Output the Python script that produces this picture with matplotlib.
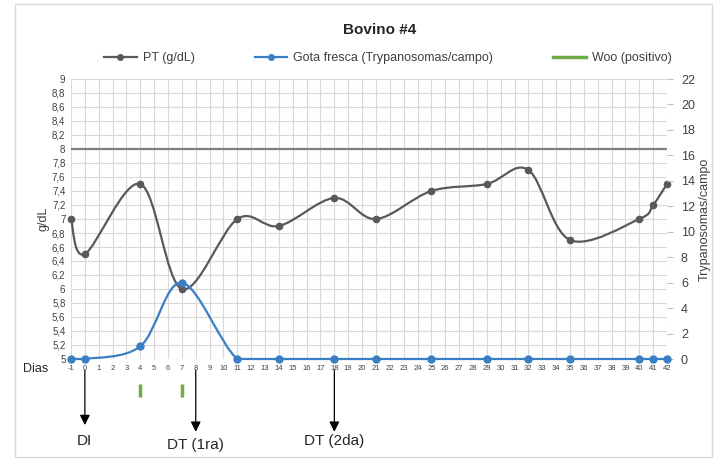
import matplotlib
matplotlib.use("Agg")
import matplotlib.pyplot as plt
from matplotlib.path import Path
from matplotlib.patches import PathPatch, Rectangle
from matplotlib.lines import Line2D
import numpy as np

plt.rcParams['font.family'] = ['Liberation Sans Narrow', 'Liberation Sans', 'DejaVu Sans']

# ---- data ----
days = [-1, 0, 4, 7, 11, 14, 18, 21, 25, 29, 32, 35, 40, 41, 42]
pt = [7.0, 6.5, 7.5, 6.0, 7.0, 6.9, 7.3, 7.0, 7.4, 7.5, 7.7, 6.7, 7.0, 7.2, 7.5]
gota = [0, 0, 1, 6, 0, 0, 0, 0, 0, 0, 0, 0, 0, 0, 0]
woo_days = [4, 7]
ref_level = 8
tick_days = list(range(-1, 43))
left_ticks = [5, 5.2, 5.4, 5.6, 5.8, 6, 6.2, 6.4, 6.6, 6.8, 7, 7.2, 7.4, 7.6, 7.8, 8, 8.2, 8.4, 8.6, 8.8, 9]
right_ticks = list(range(0, 23, 2))
events = [(0, "DI"), (8, "DT (1ra)"), (18, "DT (2da)")]

C_PT = "#595959"
C_BLUE = "#3a7fc4"
C_GREEN = "#70ad47"
C_GRID = "#d9d9d9"


def smooth_path(xs, ys, floor=None):
    xs = np.asarray(xs, float)
    ys = np.asarray(ys, float)
    n = len(xs)
    verts = [(xs[0], ys[0])]
    codes = [Path.MOVETO]
    for i in range(n - 1):
        p0 = np.array([xs[max(i - 1, 0)], ys[max(i - 1, 0)]])
        p1 = np.array([xs[i], ys[i]])
        p2 = np.array([xs[i + 1], ys[i + 1]])
        p3 = np.array([xs[min(i + 2, n - 1)], ys[min(i + 2, n - 1)]])
        c1 = p1 + (p2 - p0) / 6.0
        c2 = p2 - (p3 - p1) / 6.0
        if floor is not None:
            c1[1] = max(c1[1], floor)
            c2[1] = max(c2[1], floor)
        verts += [tuple(c1), tuple(c2), tuple(p2)]
        codes += [Path.CURVE4] * 3
    return Path(verts, codes)


fig = plt.figure(figsize=(7.18, 4.62), dpi=100)
fig.patches.append(Rectangle((15 / 718, 1 - 457 / 462), 697 / 718, 453 / 462,
                             transform=fig.transFigure, fill=False,
                             edgecolor="#d9d9d9", linewidth=1))

ax = fig.add_axes([71 / 718, 1 - 359 / 462, 596 / 718, 280 / 462])
ax2 = ax.twinx()

ax.set_xlim(-1, 42)
ax.set_ylim(5, 9)
ax2.set_ylim(0, 22)

ax.set_xticks(tick_days)
ax.set_xticklabels([str(d) for d in tick_days], fontsize=5.5, color="#404040")
ax.set_yticks(left_ticks)
ax.set_yticklabels([("%g" % v).replace(".", ",") for v in left_ticks], fontsize=7, color="#404040")
ax.tick_params(axis="both", length=0, pad=4)
ax.grid(True, color=C_GRID, linewidth=0.8)
ax.set_axisbelow(True)
for s in ax.spines.values():
    s.set_visible(False)

ax2.set_yticks(right_ticks)
ax2.set_yticklabels([str(v) for v in right_ticks], fontsize=9, color="#404040")
ax2.tick_params(axis="y", length=4, color="#bfbfbf", pad=6)
for s in ax2.spines.values():
    s.set_visible(False)

# reference line at 8
ax.axhline(ref_level, color="#7f7f7f", linewidth=1.6, zorder=3)

# PT curve
ax.add_patch(PathPatch(smooth_path(days, pt), fill=False, edgecolor=C_PT, linewidth=1.6, zorder=4))
ax.plot(days, pt, linestyle="none", marker="o", markersize=4.5, color=C_PT, zorder=5, clip_on=False)

# Gota fresca curve
ax2.add_patch(PathPatch(smooth_path(days, gota, floor=0), fill=False, edgecolor=C_BLUE,
                        linewidth=1.6, zorder=4, clip_on=False))
ax2.plot(days, gota, linestyle="none", marker="o", markersize=5, color=C_BLUE, zorder=5, clip_on=False)

ax.set_ylabel("g/dL", fontsize=9, color="#404040", labelpad=2)
ax2.set_ylabel("Trypanosomas/campo", fontsize=9, color="#404040", labelpad=3)

# Woo positive marks
tr = ax.get_xaxis_transform()
for d in woo_days:
    ax.plot([d, d], [-0.089, -0.136], transform=tr, color=C_GREEN, linewidth=2.5,
            clip_on=False, solid_capstyle="butt")

# arrows and labels
ends = {"DI": -0.236, "DT (1ra)": -0.26, "DT (2da)": -0.26}
label_y = {"DI": -0.293, "DT (1ra)": -0.307, "DT (2da)": -0.293}
for d, lab in events:
    ax.annotate("", xy=(d, ends[lab]), xytext=(d, -0.04), xycoords=tr, textcoords=tr,
                arrowprops=dict(arrowstyle="-|>,head_length=0.6,head_width=0.3",
                                color="black", linewidth=0.9, shrinkA=0, shrinkB=0),
                annotation_clip=False)
    ax.text(d, label_y[lab], lab, transform=tr, ha="center", va="center",
            fontsize=11, color="#262626", clip_on=False)

fig.text(36 / 718, 1 - 369 / 462, "Dias", ha="center", va="center", fontsize=9, color="#262626")

fig.text(380 / 718, 1 - 30 / 462, "Bovino #4", ha="center", va="center",
         fontsize=11, fontweight="bold", color="#262626")

handles = [
    Line2D([], [], color=C_PT, linewidth=1.6, marker="o", markersize=4),
    Line2D([], [], color=C_BLUE, linewidth=1.6, marker="o", markersize=4),
    Line2D([], [], color=C_GREEN, linewidth=2.5),
]
labels = ["PT (g/dL)", "Gota fresca (Trypanosomas/campo)", "Woo (positivo)"]
fig.legend(handles, labels, loc="center", bbox_to_anchor=(388 / 718, 1 - 58 / 462),
           ncol=3, frameon=False, fontsize=9, columnspacing=4.8, handlelength=2.6,
           handletextpad=0.5, labelcolor="#404040")

fig.savefig("out.png", dpi=100)
